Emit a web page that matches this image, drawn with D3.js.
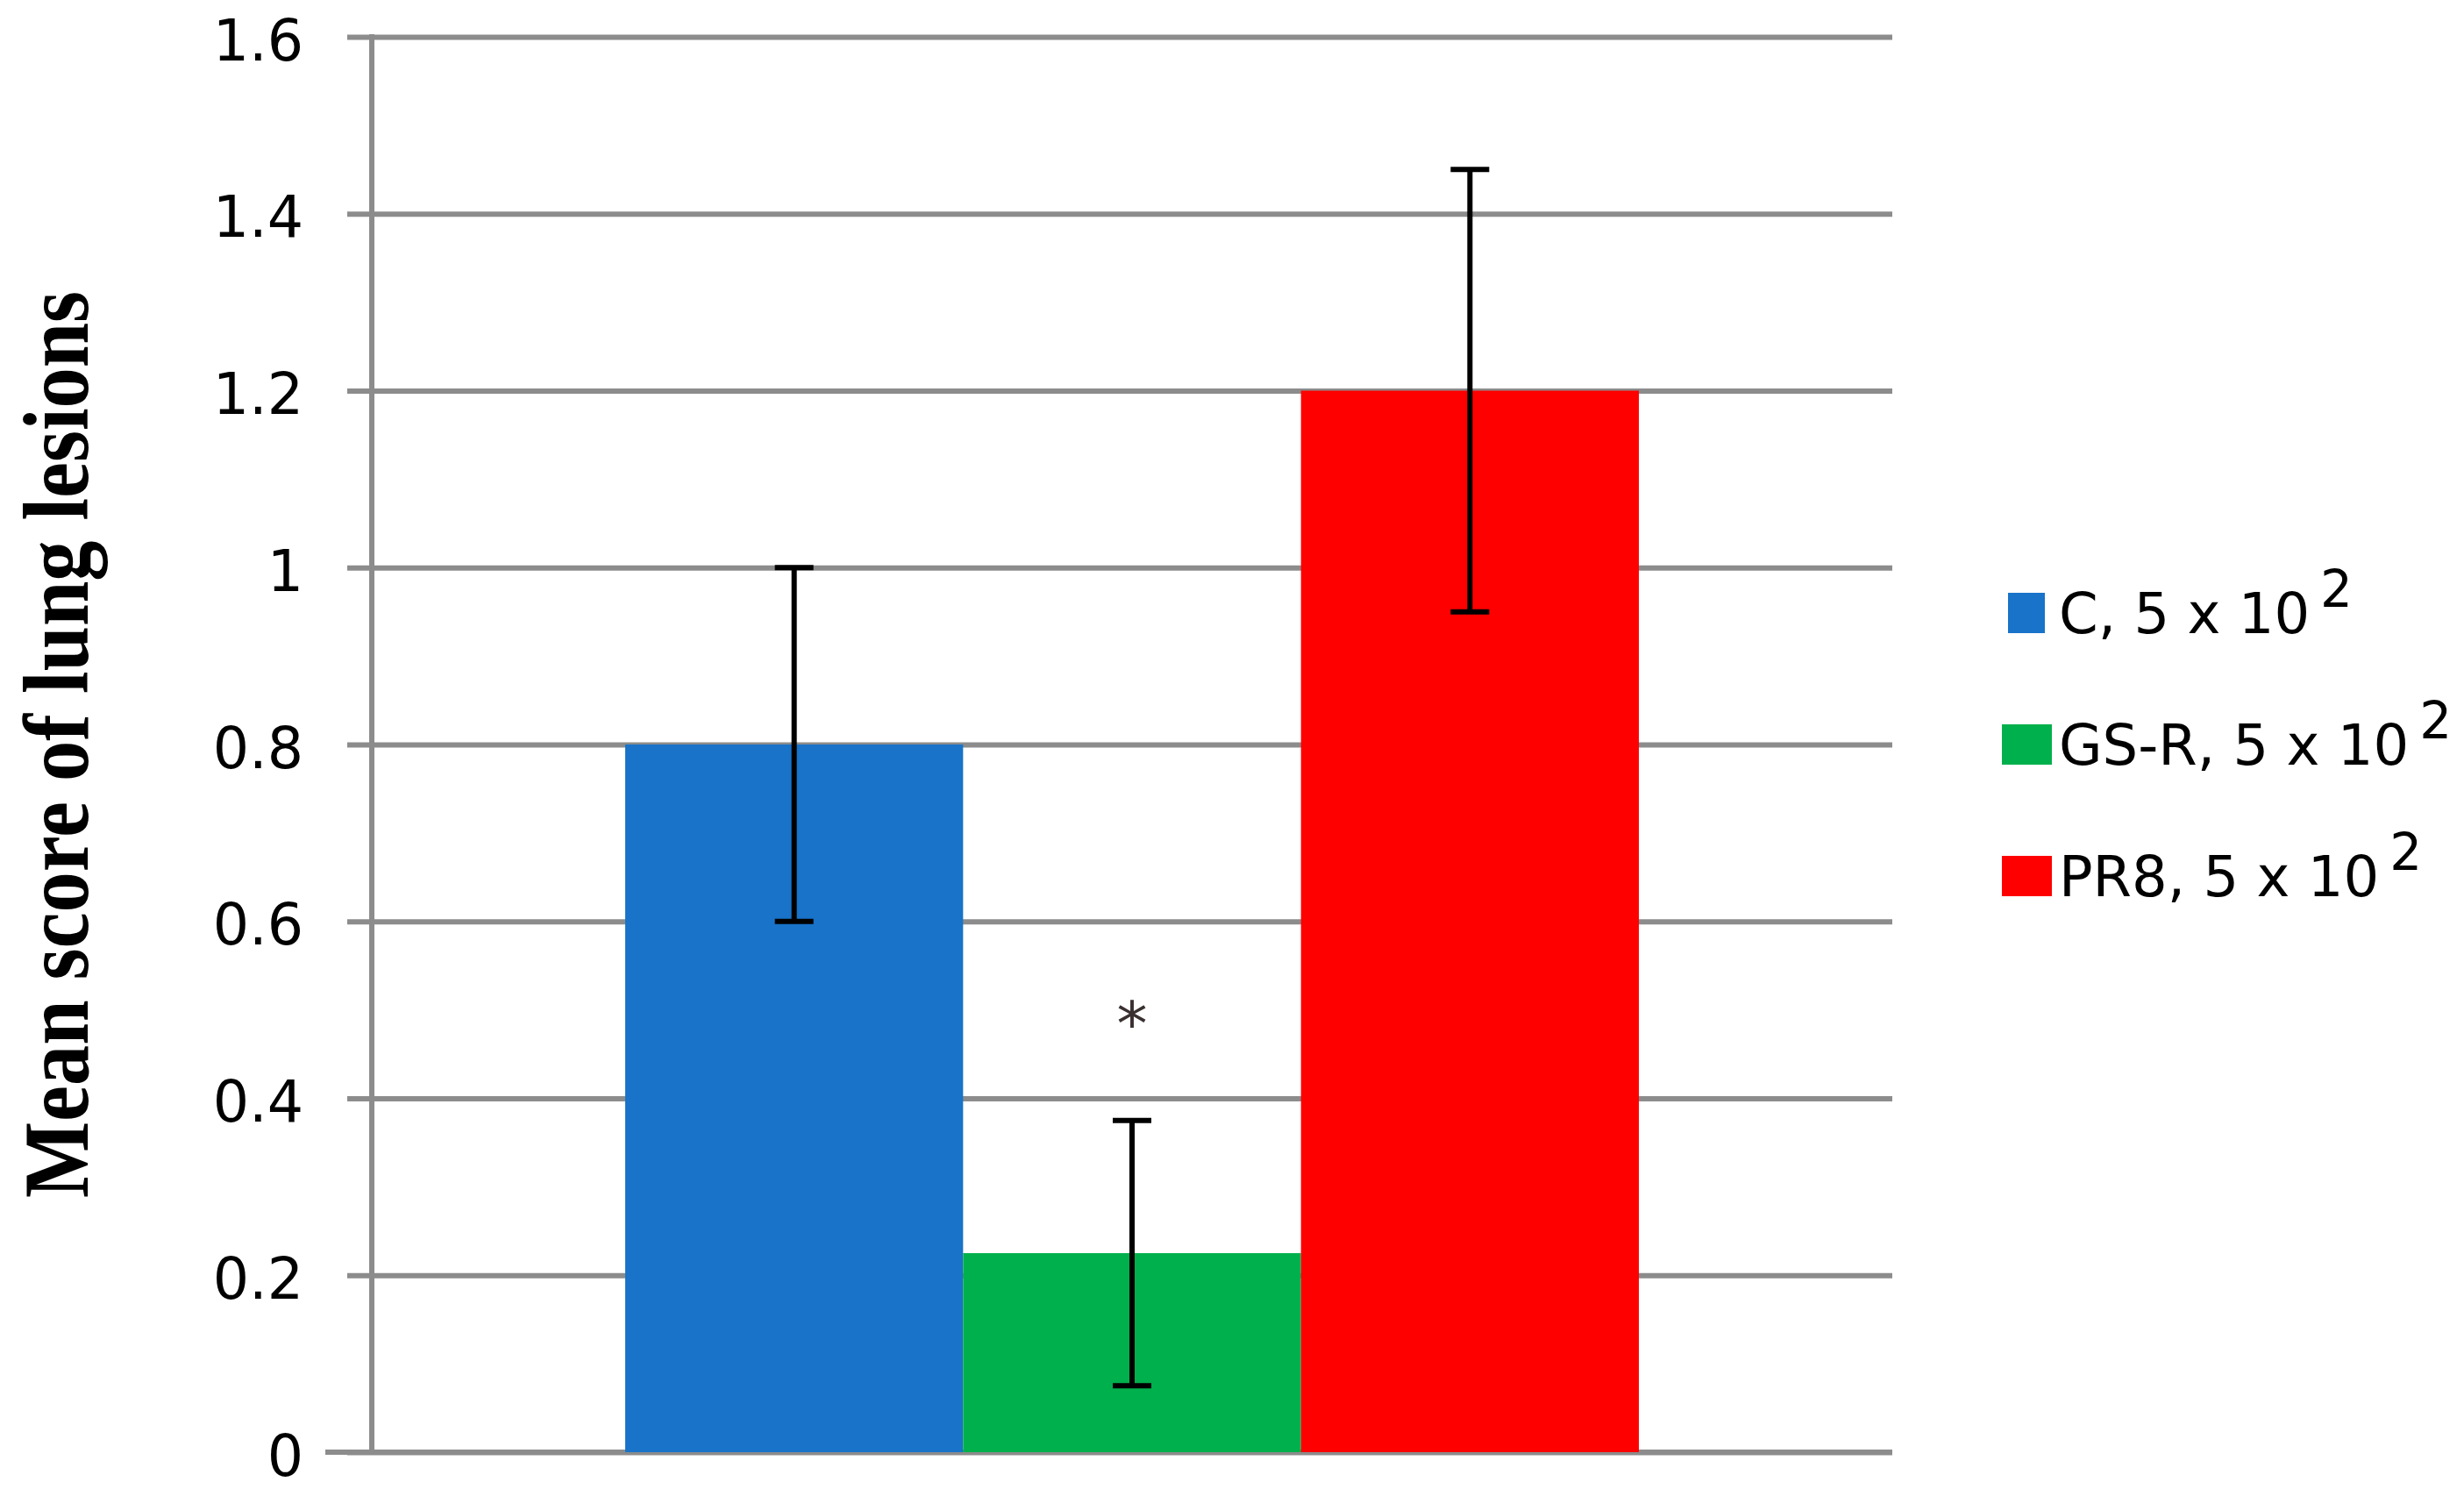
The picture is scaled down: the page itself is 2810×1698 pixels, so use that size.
<!DOCTYPE html>
<html>
<head>
<meta charset="utf-8">
<script src="https://cdnjs.cloudflare.com/ajax/libs/d3/7.8.5/d3.min.js"></script>
<style>
  html, body { margin: 0; padding: 0; background: #ffffff; }
  svg { display: block; }
</style>
</head>
<body>
<svg id="chart"></svg>
<script>
// chart data
const seriesNames = ["C, 5 x 10", "GS-R, 5 x 10", "PR8, 5 x 10"];
const seriesSup = ["2", "2", "2"];
const seriesValues = [0.8, 0.225, 1.2];
const seriesErrors = [0.2, 0.15, 0.25];
const seriesColors = ["#1873c9", "#00b04c", "#ff0000"];
const significance = ["", "*", ""];
const yTicks = [0, 0.2, 0.4, 0.6, 0.8, 1, 1.2, 1.4, 1.6];
const yTickLabels = ["0", "0.2", "0.4", "0.6", "0.8", "1", "1.2", "1.4", "1.6"];
const yTitle = "Mean score of lung lesions";

let width = 2810;
let height = 1698;
let gridColor = "#8c8c8c";
let labelFont = "'DejaVu Sans', Verdana, sans-serif";

let svg = d3.select("#chart")
  .attr("width", width)
  .attr("height", height);

let plotLeft = 424;
let plotRight = 2158;
let plotTop = 42;
let plotBottom = 1656;

// scales
let y = d3.scaleLinear()
  .domain([0, 1.6])
  .range([plotBottom, plotTop]);

let xGroup = d3.scaleBand()
  .domain(["group"])
  .range([plotLeft, plotRight])
  .paddingOuter(0.25)
  .paddingInner(0);

let xSeries = d3.scaleBand()
  .domain(seriesNames)
  .range([xGroup("group"), xGroup("group") + xGroup.bandwidth()])
  .padding(0);

// gridlines + tick labels
let gridStart = 396;
let yAxis = d3.axisLeft(y)
  .tickValues(yTicks)
  .tickFormat((d, i) => yTickLabels[i])
  .tickSize(-(plotRight - gridStart))
  .tickPadding(50);

let axisG = svg.append("g")
  .attr("transform", "translate(" + gridStart + ",0)")
  .call(yAxis);

axisG.select(".domain").remove();
axisG.selectAll(".tick line")
  .attr("stroke", gridColor)
  .attr("stroke-width", 6);
axisG.selectAll(".tick text")
  .attr("fill", "#000")
  .attr("dy", "0.4em")
  .style("font-family", labelFont)
  .style("font-size", "65px");

// baseline sticks out a bit further left
svg.append("line")
  .attr("x1", 371)
  .attr("x2", plotRight)
  .attr("y1", y(0))
  .attr("y2", y(0))
  .attr("stroke", gridColor)
  .attr("stroke-width", 6);

// bars
let data = seriesNames.map((name, i) => ({
  name: name,
  value: seriesValues[i],
  err: seriesErrors[i],
  color: seriesColors[i],
  mark: significance[i]
}));

svg.selectAll(".bar")
  .data(data)
  .enter()
  .append("rect")
  .attr("class", "bar")
  .attr("x", d => xSeries(d.name))
  .attr("y", d => y(d.value))
  .attr("width", xSeries.bandwidth())
  .attr("height", d => y(0) - y(d.value))
  .style("fill", d => d.color);

// vertical axis line
svg.append("line")
  .attr("x1", plotLeft)
  .attr("x2", plotLeft)
  .attr("y1", y(1.6) - 3)
  .attr("y2", y(0) + 3)
  .attr("stroke", gridColor)
  .attr("stroke-width", 6);

// error bars
let capHalf = 22;
let errG = svg.selectAll(".err")
  .data(data)
  .enter()
  .append("g")
  .attr("class", "err")
  .attr("transform", d => "translate(" + (xSeries(d.name) + xSeries.bandwidth() / 2) + ",0)");

errG.append("line")
  .attr("x1", 0).attr("x2", 0)
  .attr("y1", d => y(d.value + d.err))
  .attr("y2", d => y(d.value - d.err))
  .attr("stroke", "#000")
  .attr("stroke-width", 6);

errG.append("line")
  .attr("x1", -capHalf).attr("x2", capHalf)
  .attr("y1", d => y(d.value + d.err))
  .attr("y2", d => y(d.value + d.err))
  .attr("stroke", "#000")
  .attr("stroke-width", 6);

errG.append("line")
  .attr("x1", -capHalf).attr("x2", capHalf)
  .attr("y1", d => y(d.value - d.err))
  .attr("y2", d => y(d.value - d.err))
  .attr("stroke", "#000")
  .attr("stroke-width", 6);

// significance asterisk
errG.append("text")
  .attr("x", 0)
  .attr("y", d => y(d.value + d.err) - 86)
  .attr("text-anchor", "middle")
  .style("font-family", labelFont)
  .style("font-size", "70px")
  .style("fill", "#3a3030")
  .text(d => d.mark);

// y axis title
svg.append("text")
  .attr("transform", "translate(100," + ((plotTop + plotBottom) / 2) + ") rotate(-90)")
  .attr("text-anchor", "middle")
  .attr("textLength", 1034)
  .attr("lengthAdjust", "spacingAndGlyphs")
  .style("font-family", "'Liberation Serif', 'Times New Roman', serif")
  .style("font-weight", "bold")
  .style("font-size", "106px")
  .style("fill", "#000")
  .text(yTitle);

// legend
let legendTop = 676;
let legendStep = 150;
let swatchH = 46;

let legend = svg.selectAll(".legend")
  .data(data)
  .enter()
  .append("g")
  .attr("class", "legend")
  .attr("transform", (d, i) => "translate(0," + (legendTop + i * legendStep) + ")");

legend.append("rect")
  .attr("x", (d, i) => i === 0 ? 2290 : 2283)
  .attr("y", 0)
  .attr("width", (d, i) => i === 0 ? 42 : 57)
  .attr("height", swatchH)
  .style("fill", d => d.color);

let legendText = legend.append("text")
  .attr("x", 2348)
  .attr("y", swatchH)
  .style("font-family", labelFont)
  .style("font-size", "64px")
  .style("fill", "#000");

legendText.append("tspan")
  .text(d => d.name);

legendText.append("tspan")
  .attr("dx", 12)
  .attr("dy", -30)
  .style("font-size", "58px")
  .text((d, i) => seriesSup[i]);
</script>
</body>
</html>
